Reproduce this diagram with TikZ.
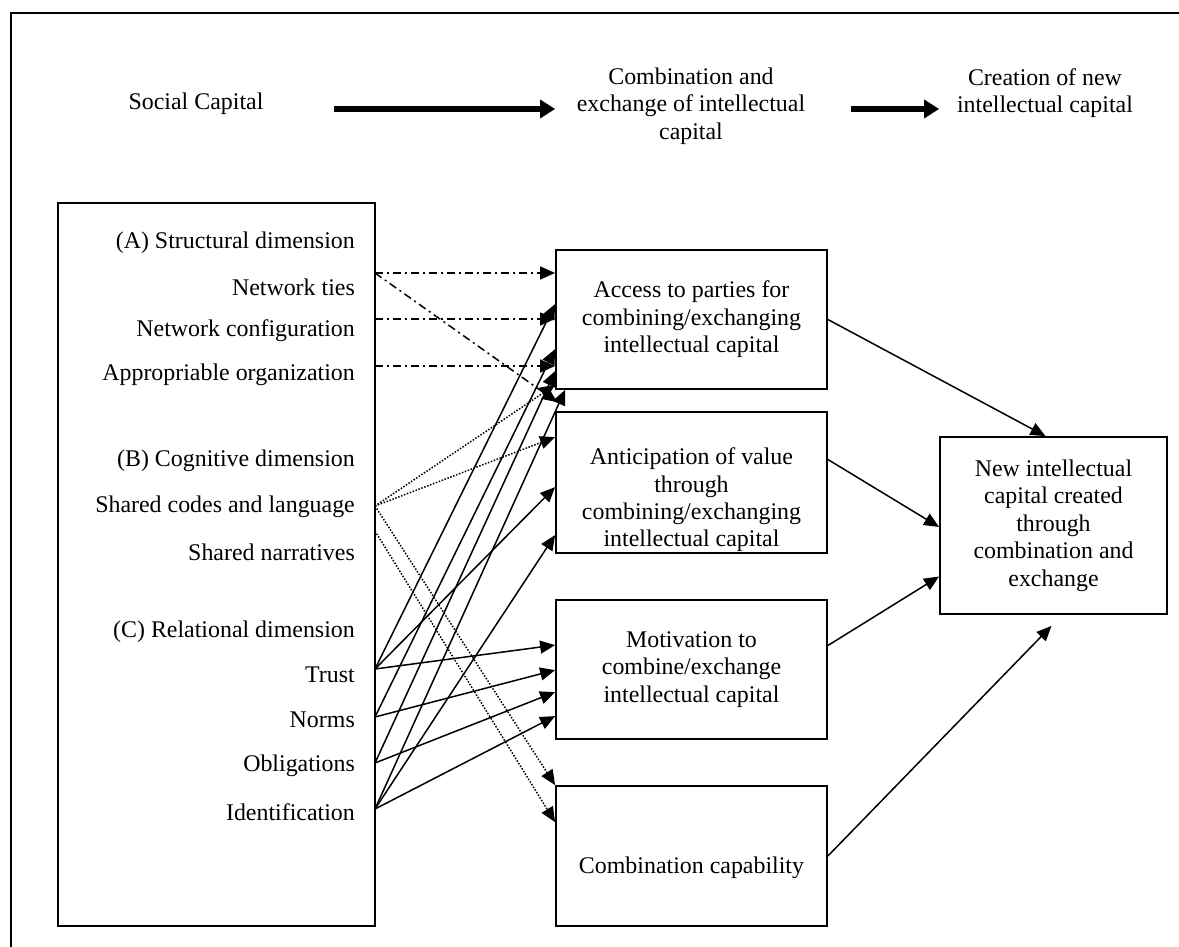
\documentclass[tikz,border=0pt]{standalone}
\usepackage{fontspec}
\setmainfont{Liberation Serif}
\usetikzlibrary{arrows.meta, positioning}
\tikzset{
  box/.style={draw, line width=1.8pt, inner sep=0pt, align=center},
  lbl/.style={anchor=east, inner sep=0pt},
  conn/.style={line width=1.5pt, -{Triangle[length=15pt,width=13pt]}},
  dashdot/.style={conn, dash pattern=on 8pt off 4pt on 2pt off 4pt},
  dotline/.style={conn, dash pattern=on 1.5pt off 1.6pt},
  bigarrow/.style={line width=5.5pt, -{Triangle[length=15pt,width=18pt]}}
}
\begin{document}
\begin{tikzpicture}[x=1pt, y=-1pt, every node/.style={font=\fontsize{23.9}{27.4}\selectfont}]
\useasboundingbox (0,0) rectangle (1179,947);
\draw[line width=1.8pt] (11,947) -- (11,13) -- (1179,13);

\node (soc) at (196,104) {Social Capital};
\node[align=center] (comb) at (691,106) {Combination and\\exchange of intellectual\\capital};
\node[align=center] (creat) at (1045,93) {Creation of new\\intellectual capital};

\node[box, minimum width=317pt, minimum height=723pt] (sc) at (216.5,564.5) {};
\node[lbl] (structlbl) at (355,243) {(A) Structural dimension};
\node[lbl] (tieslbl) at (355,287) {Network ties};
\node[lbl] (configlbl) at (355,331) {Network configuration};
\node[lbl] (approlbl) at (355,375) {Appropriable organization};
\node[lbl] (cognlbl) at (355,461) {(B) Cognitive dimension};
\node[lbl] (codeslbl) at (355,507) {Shared codes and language};
\node[lbl] (narrlbl) at (355,552) {Shared narratives};
\node[lbl] (rellbl) at (355,632) {(C) Relational dimension};
\node[lbl] (trustlbl) at (355,675) {Trust};
\node[lbl] (normslbl) at (355,720) {Norms};
\node[lbl] (obliglbl) at (355,766) {Obligations};
\node[lbl] (identlbl) at (355,812) {Identification};

\coordinate (ties) at (375,273);
\coordinate (config) at (375,319);
\coordinate (appro) at (375,366);
\coordinate (codes) at (375,506);
\coordinate (narr) at (375,531);
\coordinate (trust) at (375,669);
\coordinate (norms) at (375,717);
\coordinate (oblig) at (375,763);
\coordinate (ident) at (375,809);

\node[box, minimum width=271pt, minimum height=139pt] (access) at (691.5,319.5) {Access to parties for\\combining/exchanging\\intellectual capital};
\node[box, minimum width=271pt, minimum height=141pt] (anticip) at (691.5,482.5) {};
\begin{scope}
\clip (anticip.north west) rectangle (anticip.south east);
\node[align=center] (anticiptxt) at (691.5,500) {Anticipation of value\\through\\combining/exchanging\\intellectual capital};
\end{scope}
\node[box, minimum width=271pt, minimum height=139pt] (motiv) at (691.5,669.5) {Motivation to\\combine/exchange\\intellectual capital};
\node[box, minimum width=271pt, minimum height=140pt] (combcap) at (691.5,856) {};
\node (combcaptxt) at (691.5,868) {Combination capability};
\node[box, minimum width=227pt, minimum height=177pt] (newic) at (1053.5,525.5) {New intellectual\\capital created\\through\\combination and\\exchange};

\draw[bigarrow] ([xshift=67pt,yshift=-5pt]soc.east) -- ([yshift=-5pt]soc.east -| access.west);
\draw[bigarrow] ([xshift=42pt,yshift=-5pt]comb.east |- soc.east) -- ([yshift=-5pt]soc.east -| newic.west);

\draw[dashdot] (ties) -- (ties -| access.west);
\draw[dashdot] (config) -- (config -| access.west);
\draw[dashdot] (appro) -- (appro -| access.west);
\draw[dashdot] (ties) -- ([xshift=2pt,yshift=9pt]anticip.north west);

\draw[dotline] (codes) -- ([yshift=5pt]access.south west);
\draw[dotline] (codes) -- ([yshift=-26pt]anticip.north west);
\draw[dotline] (codes) -- (combcap.north west);
\draw[dotline] (narr) -- ([yshift=-37pt]combcap.north west);

\draw[conn] (trust) -- ([yshift=-55pt]access.north west);
\draw[conn] (trust) -- ([yshift=-76pt]anticip.north west);
\draw[conn] (trust) -- ([yshift=-46pt]motiv.north west);
\draw[conn] (norms) -- ([yshift=-100pt]access.north west);
\draw[conn] (norms) -- ([yshift=-71pt]motiv.north west);
\draw[conn] (oblig) -- ([yshift=-122pt]access.north west);
\draw[conn] (oblig) -- ([yshift=-93pt]motiv.north west);
\draw[conn] (ident) -- ([xshift=10pt]access.south west);
\draw[conn] (ident) -- ([yshift=-124pt]anticip.north west);
\draw[conn] (ident) -- ([yshift=-117pt]motiv.north west);

\draw[conn] (access.east) -- ([xshift=-8pt]newic.north);
\draw[conn] ([yshift=23pt]anticip.east) -- ([yshift=-1.5pt]newic.west);
\draw[conn] ([yshift=24pt]motiv.east) -- ([yshift=-51pt]newic.west);
\draw[conn] (combcap.east) -- ([xshift=-2pt,yshift=-11pt]newic.south);
\end{tikzpicture}
\end{document}
